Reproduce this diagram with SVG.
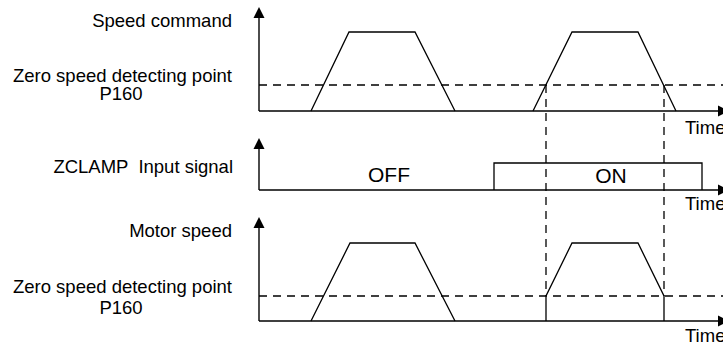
<svg xmlns="http://www.w3.org/2000/svg" width="723" height="346" viewBox="0 0 723 346">
<style>
.lbl{font-family:"Liberation Sans",Arial,sans-serif;font-size:18.5px;fill:#000;white-space:pre}
.big{font-family:"Liberation Sans",Arial,sans-serif;font-size:21px;fill:#000}
.ax{fill:none;stroke:#000;stroke-width:1.4}
.ln{fill:none;stroke:#000;stroke-width:1.3;stroke-linejoin:miter}
.dash{fill:none;stroke:#000;stroke-width:1.3;stroke-dasharray:8 6}
</style>
<rect width="723" height="346" fill="#fff"/>
<g id="labels">
<text class="lbl" x="232" y="27" text-anchor="end">Speed command</text>
<text class="lbl" x="232" y="82" text-anchor="end">Zero speed detecting point</text>
<text class="lbl" x="121" y="100" text-anchor="middle">P160</text>
<text class="lbl" x="233" y="173" text-anchor="end" xml:space="preserve">ZCLAMP  Input signal</text>
<text class="lbl" x="232" y="237" text-anchor="end">Motor speed</text>
<text class="lbl" x="232" y="293" text-anchor="end">Zero speed detecting point</text>
<text class="lbl" x="121" y="314" text-anchor="middle">P160</text>
<text class="lbl" x="685" y="134">Time</text>
<text class="lbl" x="685" y="210">Time</text>
<text class="lbl" x="685" y="342">Time</text>
<text class="big" x="368" y="182">OFF</text>
<text class="big" x="611" y="183" text-anchor="middle">ON</text>
</g>
<g id="axes">
<path class="ax" d="M259,111 V17"/>
<path d="M259,7 L253.5,18 L264.5,18 z" fill="#000"/>
<path class="ax" d="M259,111 H718"/>
<path d="M729,111 L718,105.5 L718,116.5 z" fill="#000"/>
<path class="ax" d="M259,190 V148"/>
<path d="M259,138 L253.5,149 L264.5,149 z" fill="#000"/>
<path class="ax" d="M259,190 H718"/>
<path d="M729,190 L718,184.5 L718,195.5 z" fill="#000"/>
<path class="ax" d="M259,321 V227"/>
<path d="M259,217 L253.5,228 L264.5,228 z" fill="#000"/>
<path class="ax" d="M259,321 H718"/>
<path d="M729,321 L718,315.5 L718,326.5 z" fill="#000"/>
</g>
<g id="connectors">
<path class="dash" d="M259,85 H723"/>
<path class="dash" d="M259,296 H723"/>
<path class="dash" d="M546,85 V296"/>
<path class="dash" d="M664,85 V296"/>
</g>
<g id="speed-command">
<path class="ln" d="M311,111 L349,32 H415 L455,111"/>
<path class="ln" d="M533,111 L572,32 H638 L676,111"/>
</g>
<g id="zclamp-signal">
<path class="ln" d="M494,190 V163 H702 V190"/>
</g>
<g id="motor-speed">
<path class="ln" d="M311,321 L350,243 H415 L455,321"/>
<path class="ln" d="M546,321 V296 L572,243 H638 L664,296 V321"/>
</g>
</svg>
